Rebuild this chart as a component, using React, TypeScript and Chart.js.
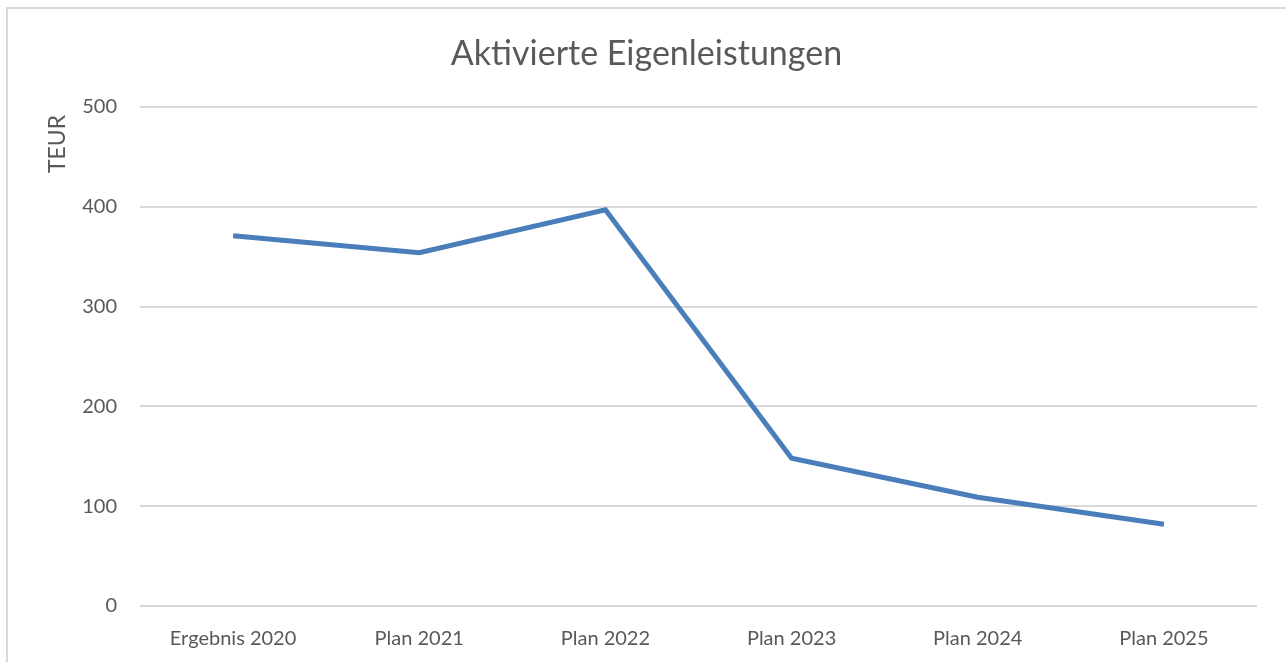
import React, { useEffect, useRef } from "react";
import { Chart, registerables } from "chart.js";

Chart.register(...registerables);

const categories = ["Ergebnis 2020", "Plan 2021", "Plan 2022", "Plan 2023", "Plan 2024", "Plan 2025"];
const values = [371, 354, 397, 148, 109, 82];
const yTicks = [0, 100, 200, 300, 400, 500];
const chartTitle = "Aktivierte Eigenleistungen";
const yAxisTitle = "TEUR";

const FONT = "Lato, 'Open Sans', sans-serif";
const TEXT = "#595959";
const GRID = "#d9d9d9";

const yTitlePlugin = {
  id: "yTitlePlugin",
  afterDraw(chart: any) {
    const c = chart.ctx;
    c.save();
    c.translate(58, 144);
    c.rotate(-Math.PI / 2);
    c.fillStyle = TEXT;
    c.font = `23px ${FONT}`;
    c.textAlign = "center";
    c.textBaseline = "middle";
    c.fillText(yAxisTitle, 0, 0);
    c.restore();
  },
};

export default function App() {
  const ref = useRef<HTMLCanvasElement | null>(null);

  useEffect(() => {
    document.body.style.overflow = "hidden";
    const ctx = ref.current;
    if (!ctx) return;
    const chart = new Chart(ctx, {
      type: "line",
      data: {
        labels: categories,
        datasets: [
          {
            data: values,
            borderColor: "#4a7ebb",
            borderWidth: 5,
            pointRadius: 0,
            tension: 0,
            fill: false,
            borderCapStyle: "butt",
            borderJoinStyle: "miter",
          },
        ],
      },
      plugins: [yTitlePlugin],
      options: {
        animation: false,
        responsive: false,
        maintainAspectRatio: false,
        layout: { padding: { left: 36, right: 29, top: 0, bottom: 0 } },
        plugins: {
          legend: { display: false },
          tooltip: { enabled: false },
          title: {
            display: true,
            text: chartTitle,
            color: TEXT,
            font: { family: FONT, size: 34, weight: "normal" },
            padding: { top: 33.6, bottom: 32.6 },
          },
        },
        scales: {
          x: {
            offset: true,
            grid: { display: false, offset: true },
            border: { display: false },
            ticks: {
              color: TEXT,
              font: { family: FONT, size: 20 },
              padding: 13,
              maxRotation: 0,
              autoSkip: false,
            },
            afterFit: (s: any) => {
              s.height = 56;
            },
          },
          y: {
            min: 0,
            max: 500,
            afterBuildTicks: (s: any) => {
              s.ticks = yTicks.map((v) => ({ value: v }));
            },
            grid: { color: GRID, lineWidth: 2, drawTicks: false },
            border: { display: false },
            ticks: {
              color: TEXT,
              font: { family: FONT, size: 20 },
              padding: 23,
            },
            afterFit: (s: any) => {
              s.width = 104;
            },
          },
        },
      },
    });
    return () => chart.destroy();
  }, []);

  return (
    <div style={{ position: "fixed", left: 0, top: 0, width: 1286, height: 662, background: "#fff" }}>
      <div
        style={{
          position: "absolute",
          left: 6,
          top: 7,
          width: 1300,
          height: 700,
          borderLeft: "2px solid #d9d9d9",
          borderTop: "2px solid #d9d9d9",
        }}
      />
      <canvas ref={ref} width={1286} height={662} style={{ position: "absolute", left: 0, top: 0 }} />
    </div>
  );
}
